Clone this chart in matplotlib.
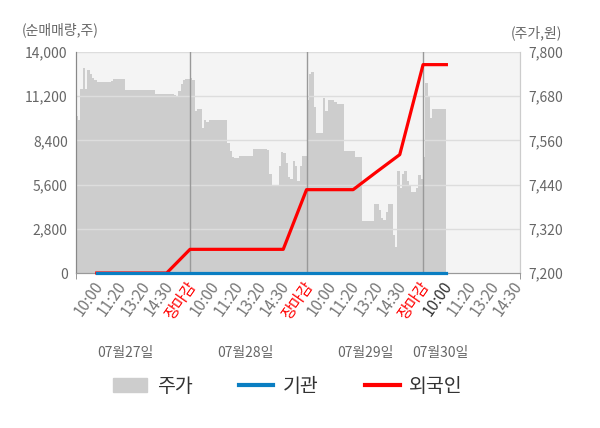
import numpy as np
import matplotlib
matplotlib.use('Agg')
import matplotlib.pyplot as plt
import matplotlib.transforms as mtrans
from matplotlib.patches import Patch
from matplotlib.lines import Line2D

plt.rcParams['font.family'] = ['Noto Sans CJK KR', 'DejaVu Sans']

# price (주가), sampled every 0.1 of a tick step, one list per day
day1_price = [7625, 7625, 7616, 7700, 7757, 7700, 7750, 7740, 7730, 7725,
              7718, 7718, 7718, 7718, 7718, 7718, 7722, 7728, 7728, 7728,
              7728, 7728, 7698, 7698, 7698, 7698, 7698, 7698, 7698, 7698,
              7698, 7698, 7698, 7698, 7698, 7687, 7687, 7687, 7687, 7687,
              7687, 7687, 7687, 7682, 7680, 7695, 7712, 7725, 7728, 7728]
day2_price = [7730, 7725, 7640, 7646, 7646, 7595, 7616, 7610, 7616, 7616,
              7616, 7616, 7616, 7616, 7616, 7616, 7553, 7532, 7516, 7512,
              7512, 7519, 7519, 7519, 7519, 7519, 7519, 7537, 7537, 7537,
              7537, 7537, 7537, 7535, 7470, 7435, 7435, 7435, 7490, 7528,
              7525, 7500, 7460, 7455, 7505, 7490, 7450, 7490, 7519, 7519]
day3_price = [7670, 7740, 7747, 7650, 7581, 7581, 7581, 7675, 7640, 7670,
              7670, 7670, 7665, 7660, 7660, 7660, 7532, 7532, 7532, 7532,
              7532, 7514, 7514, 7514, 7340, 7340, 7340, 7340, 7340, 7387,
              7387, 7370, 7350, 7345, 7365, 7387, 7387, 7304, 7270, 7476,
              7430, 7470, 7476, 7450, 7440, 7420, 7420, 7430, 7466, 7455]
day4_price = [7514, 7717, 7680, 7620, 7646, 7646, 7646, 7646, 7646, 7646]

# net buying at each tick (순매매량, cumulative)
tick_labels = ['10:00', '11:20', '13:20', '14:30', '장마감'] * 3 + ['10:00', '11:20', '13:20', '14:30']
foreign = [0, 0, 0, 0, 1500,
           1500, 1500, 1500, 1500, 5280,
           5280, 5280, 6400, 7500, 13200,
           13200]
institution = [0] * 16
dates = ['07월27일', '07월28일', '07월29일', '07월30일']
date_pos = [2.21, 7.36, 12.51, 15.73]

price = np.array(day1_price + day2_price + day3_price + day4_price)
px = np.arange(len(price) + 1) * 0.1
py = np.append(price, price[-1])
tick_x = np.arange(1, len(tick_labels) + 1)
line_x = np.arange(1, len(foreign) + 1)

fig = plt.figure(figsize=(6, 4.28), dpi=100)
ax = fig.add_axes([0.1267, 0.3621, 0.74, 0.5164])
ax.set_facecolor('#f4f4f4')
ax2 = ax.twinx()

ax.fill_between(px, 7200, py, step='post', color='#cdcdcd', lw=0, zorder=1)
p_ticks = np.arange(7200, 7801, 120)
for t in p_ticks[1:]:
    ax.axhline(t, color='#dddddd', lw=1, zorder=2)
for s in [5, 10, 15]:
    ax.axvline(s, color='#999999', lw=1, zorder=2)
ax.set_ylim(7200, 7800)
ax.set_xlim(0.11, 19.16)
ax.yaxis.tick_right()
ax.set_yticks(p_ticks)
ax.set_yticklabels(['{:,}'.format(t) for t in p_ticks])
ax.tick_params(axis='y', length=0, labelsize=10, labelcolor='#666666', pad=6)

ax2.yaxis.tick_left()
ax2.plot(line_x, foreign, color='#ff0000', lw=2.3, zorder=3, clip_on=False)
ax2.plot(line_x, institution, color='#0a7ec2', lw=2.3, zorder=4, clip_on=False)
v_ticks = np.arange(0, 14001, 2800)
ax2.set_ylim(0, 14000)
ax2.set_yticks(v_ticks)
ax2.set_yticklabels(['{:,}'.format(t) for t in v_ticks])
ax2.tick_params(axis='y', length=0, labelsize=10, labelcolor='#666666', pad=6)

for a in (ax, ax2):
    a.spines['top'].set_visible(False)
    a.spines['left'].set_color('#888888')
    a.spines['right'].set_color('#cccccc')
    a.spines['bottom'].set_color('#999999')

ax.set_xticks(tick_x)
ax.set_xticklabels(tick_labels, rotation=55, ha='right', rotation_mode='anchor')
ax.set_xticks([0.11, 5, 10, 15, 19.16], minor=True)
ax.tick_params(axis='x', which='major', length=0, labelsize=11, labelcolor='#777777', pad=4)
ax.tick_params(axis='x', which='minor', length=4, color='#888888')
shift = mtrans.ScaledTranslation(-4 / 100, 0, fig.dpi_scale_trans)
for i, lab in enumerate(ax.get_xticklabels()):
    lab.set_transform(lab.get_transform() + shift)
    if tick_labels[i] == '장마감':
        lab.set_color('#ff0000')
    elif i == 15:
        lab.set_color('#333333')

for d, xp in zip(dates, date_pos):
    ax.text(xp, -0.362, d, transform=ax.get_xaxis_transform(), ha='center', va='center',
            fontsize=10, color='#666666')

fig.text(22 / 600, 1 - 30 / 428, '(순매매량,주)', fontsize=10, color='#666666', va='center')
fig.text(562 / 600, 1 - 33 / 428, '(주가,원)', fontsize=10, color='#666666', va='center', ha='right')

handles = [Patch(color='#cdcdcd'),
           Line2D([], [], color='#0a7ec2', lw=3),
           Line2D([], [], color='#ff0000', lw=3)]
fig.legend(handles, ['주가', '기관', '외국인'], loc='center', bbox_to_anchor=(288 / 600, 1 - 386 / 428),
           ncol=3, frameon=False, fontsize=14, handlelength=1.75, columnspacing=2.4,
           handletextpad=0.5, labelcolor='#333333')

fig.savefig('out.png', dpi=100)
